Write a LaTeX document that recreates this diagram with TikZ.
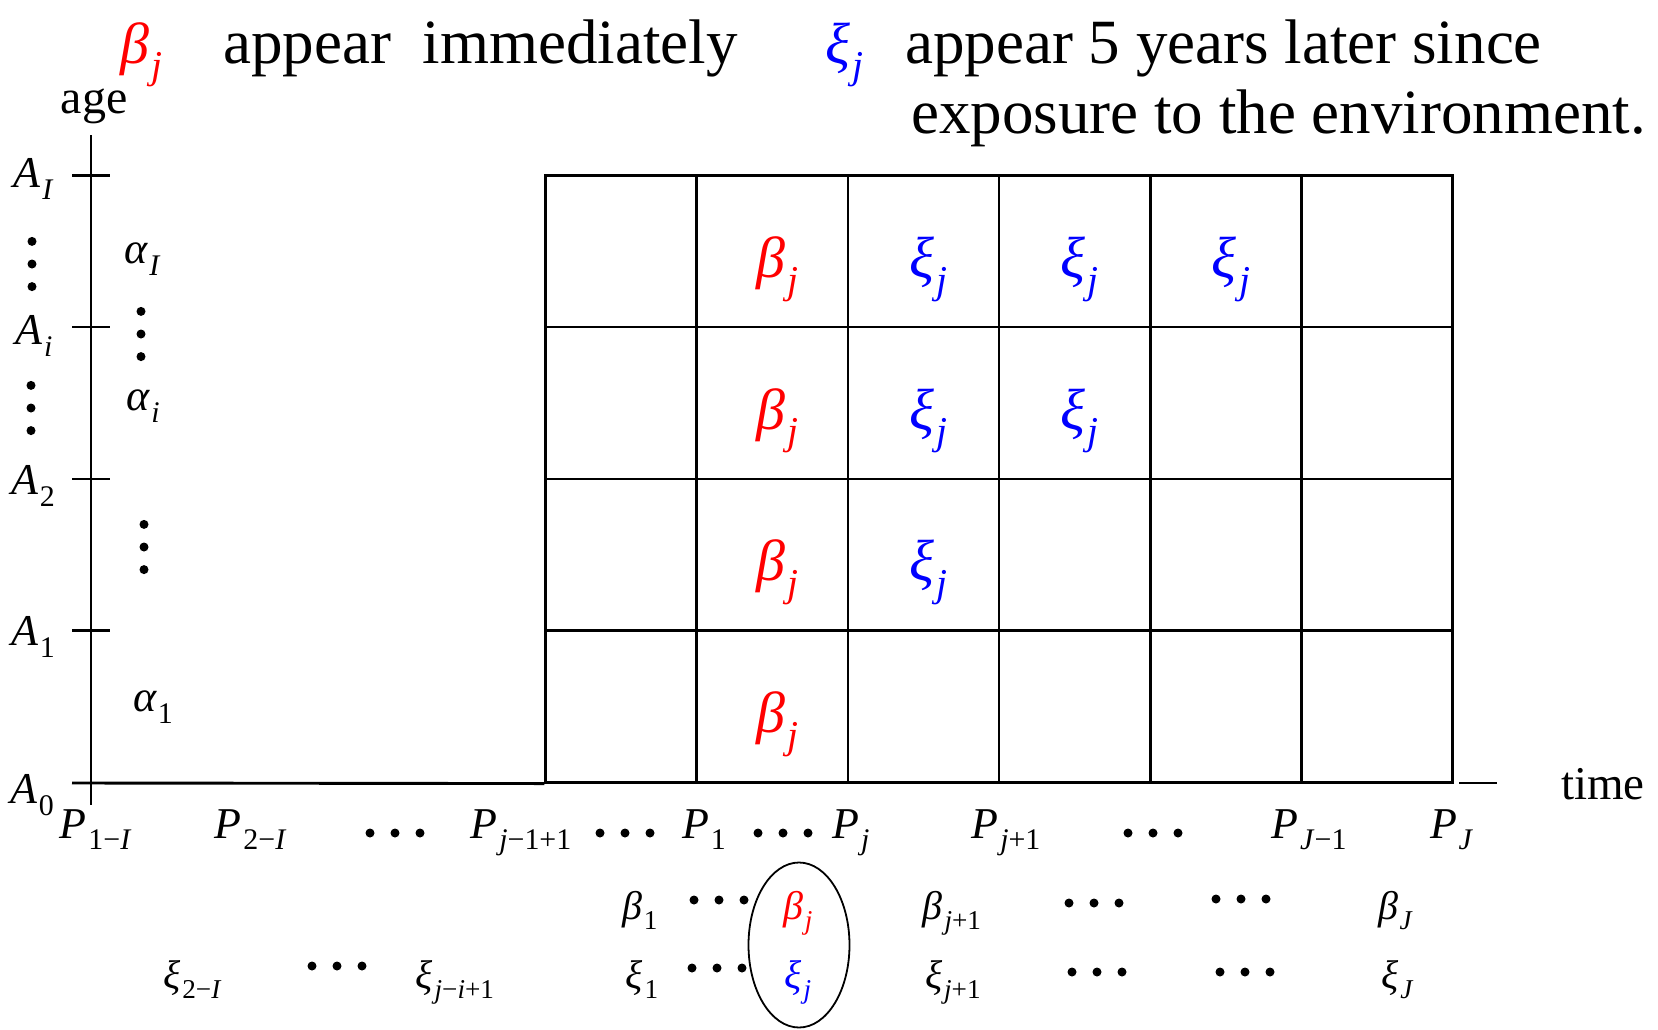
\documentclass[tikz,border=0pt]{standalone}
\usepackage{fontspec}
\setmainfont{Liberation Serif}
\usetikzlibrary{shapes.geometric}
\newcommand\mlab[3]{{\fontsize{#1}{#1}\selectfont\itshape #2\kern0.04em\raisebox{-0.27em}{\fontsize{\fpeval{0.68*#1}}{\fpeval{0.68*#1}}\selectfont #3}}}
\newcommand\hdts[2]{\foreach \dx in {-25,0,25} \fill ({#1+\dx},#2) circle[radius=4.5];}
\newcommand\vdts[2]{\foreach \dy in {-22.6,0,22.6} \fill (#1,{#2+\dy}) circle[radius=4.5];}
\newcommand\up[1]{\textup{#1}}
\begin{document}
\begin{tikzpicture}[x=1pt,y=-1pt,
  cellbox/.style={draw,line width=2.5pt,minimum width=151.2pt,minimum height=151.7pt,inner sep=0pt},
  axisline/.style={line width=2.9pt},
  tickline/.style={line width=2.3pt},
  lab/.style={inner sep=0pt,outer sep=0pt},
  ttl/.style={inner sep=0pt,anchor=base west,font=\fontsize{63}{70}\selectfont},
  bigred/.style={lab,anchor=base,text=red},
  bigblue/.style={lab,anchor=base,text=blue},
]
\useasboundingbox (0,0) rectangle (1658,1029);

% grid cells
\foreach \r in {1,...,4}
  \foreach \c in {0,...,5}
    \node[cellbox] (c\r\c) at ({545.5+151.2*(\c+0.5)},{175.5+151.7*(\r-0.5)}) {};

% axes
\coordinate (vtop) at (91,135);
\coordinate (vbot) at (91,805);
\draw[axisline] (vtop) -- (vbot);
\coordinate (hleft) at (72,783);
\draw[axisline] (hleft) -- (c40.south west);
\coordinate (hr1) at (1459,783);
\coordinate (hr2) at (1497,783);
\draw[axisline] (hr1) -- (hr2);
\foreach \ty/\nm in {175.5/tI,327.2/ti,478.9/t2,630.6/t1}{
  \coordinate (\nm a) at (72,\ty);
  \coordinate (\nm b) at (110,\ty);
  \draw[tickline] (\nm a) -- (\nm b);
}

% axis titles
\node[lab,anchor=base] (age) at (94,113) {\fontsize{48}{50}\selectfont age};
\node[lab,anchor=base west] (time) at (1561,799) {\fontsize{47}{50}\selectfont time};

% title
\node[ttl,text=red] (tbeta) at (120,63) {\mlab{58}{β}{j}};
\node[ttl] (tapp1) at (223,63) {appear\ \ immediately};
\node[ttl,text=blue] (txi) at (825,63) {\mlab{58}{ξ}{j}};
\node[ttl] (tapp2) at (905,63) {appear 5 years later since};
\node[ttl] (texp) at (911,133) {exposure to the environment.};

% age tick labels
\node[lab] (AI) at (33,179) {\mlab{44}{A}{I}};
\node[lab] (Ai) at (34,336) {\mlab{44}{A}{i}};
\node[lab] (A2) at (33,486) {\mlab{44}{A}{\up{2}}};
\node[lab] (A1) at (33,637) {\mlab{44}{A}{\up{1}}};
\node[lab] (A0) at (32,795) {\mlab{44}{A}{\up{0}}};
\vdts{32}{264}
\vdts{31}{408}

% alpha labels
\node[lab] (alI) at (142,259) {\mlab{44}{α}{I}};
\node[lab] (ali) at (143,406) {\mlab{44}{α}{i}};
\node[lab] (al1) at (153,707) {\mlab{44}{α}{\up{1}}};
\vdts{141}{334}
\vdts{144}{547}

% cell contents
\foreach \cc in {c11,c21,c31,c41}
  \node[bigred] (b\cc) at ([shift={(5,26)}]\cc.center) {\mlab{58}{β}{j}};
\foreach \cc in {c12,c13,c14,c22,c23,c32}
  \node[bigblue] (x\cc) at ([shift={(5,26)}]\cc.center) {\mlab{58}{ξ}{j}};

% period labels
\node[lab,anchor=base] (P1mI) at (95,838) {\mlab{44}{P}{\up{1−}I}};
\node[lab,anchor=base] (P2mI) at (250,838) {\mlab{44}{P}{\up{2−}I}};
\hdts{395}{833}
\node[lab,anchor=base] (Pjm) at (521,838) {\mlab{44}{P}{j\up{−1+1}}};
\hdts{625}{833}
\node[lab,anchor=base] (P1) at (704,838) {\mlab{44}{P}{\up{1}}};
\hdts{783}{833}
\node[lab,anchor=base] (Pj) at (851,838) {\mlab{44}{P}{j}};
\node[lab,anchor=base] (Pjp) at (1006,838) {\mlab{44}{P}{j\up{+1}}};
\hdts{1153}{833}
\node[lab,anchor=base] (PJm) at (1309,838) {\mlab{44}{P}{J\up{−1}}};
\node[lab,anchor=base] (PJ) at (1451,838) {\mlab{44}{P}{J}};

% beta row
\node[lab,anchor=base] (be1) at (640,919) {\mlab{40}{β}{\up{1}}};
\hdts{719}{900}
\node[bigred] (bej) at (798,919) {\mlab{40}{β}{j}};
\node[lab,anchor=base] (bejp) at (952,919) {\mlab{40}{β}{j\up{+1}}};
\hdts{1094}{903}
\hdts{1241}{899}
\node[lab,anchor=base] (beJ) at (1395,919) {\mlab{40}{β}{J}};

% xi row
\node[lab,anchor=base] (xi2I) at (192,988) {\mlab{40}{ξ}{\up{2−}I}};
\hdts{337}{966}
\node[lab,anchor=base] (xiji) at (455,988) {\mlab{40}{ξ}{j\up{−}i\up{+1}}};
\node[lab,anchor=base] (xi1) at (642,988) {\mlab{40}{ξ}{\up{1}}};
\hdts{717}{968}
\node[bigblue] (xij) at (798,988) {\mlab{40}{ξ}{j}};
\node[lab,anchor=base] (xijp) at (953,988) {\mlab{40}{ξ}{j\up{+1}}};
\hdts{1097}{972}
\hdts{1245}{972}
\node[lab,anchor=base] (xiJ) at (1397,988) {\mlab{40}{ξ}{J}};

% ellipse around beta_j, xi_j
\node[draw,ellipse,line width=1.8pt,minimum width=101pt,minimum height=165pt,inner sep=0pt] (ell) at (799,945) {};
\end{tikzpicture}
\end{document}
